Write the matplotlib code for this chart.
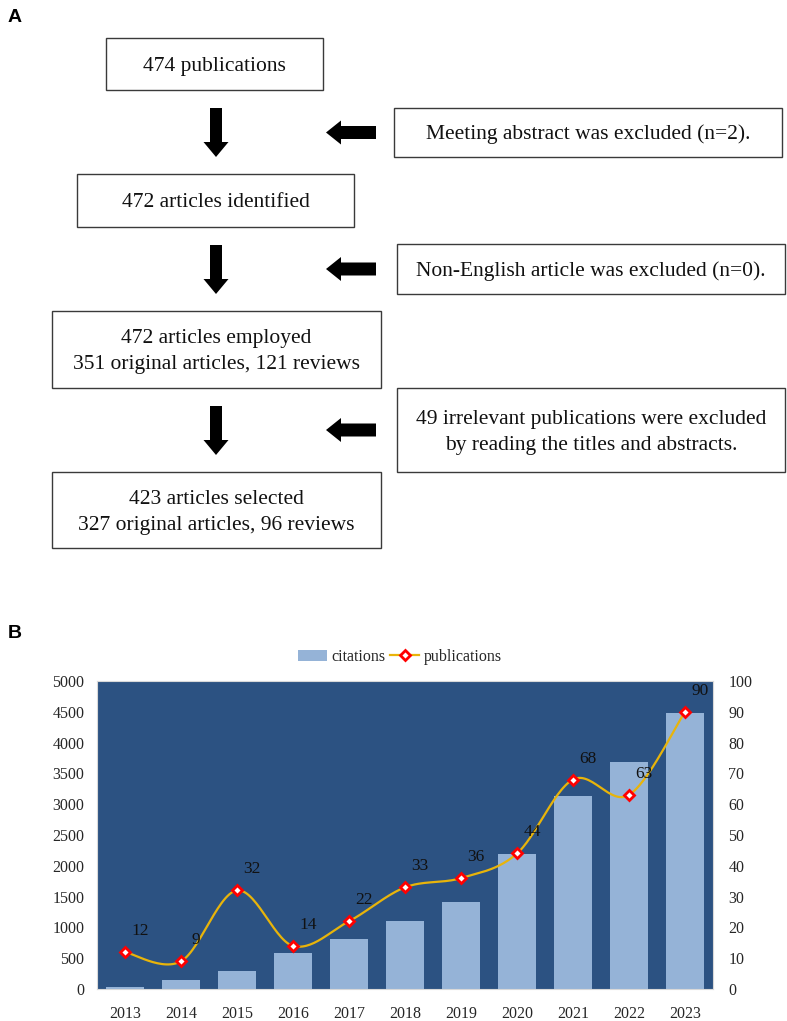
import numpy as np
import matplotlib
matplotlib.use("Agg")
import matplotlib.pyplot as plt
from matplotlib.patches import Rectangle, FancyArrow
from matplotlib.lines import Line2D

plt.rcParams['font.family'] = ['Liberation Serif', 'DejaVu Serif']

# ---- data ----
years = ['2013', '2014', '2015', '2016', '2017', '2018', '2019', '2020', '2021', '2022', '2023']
citations = [30, 140, 300, 590, 815, 1100, 1405, 2185, 3130, 3680, 4480]
publications = [12, 9, 32, 14, 22, 33, 36, 44, 68, 63, 90]

main_boxes = ['474 publications',
              '472 articles identified',
              '472 articles employed\n351 original articles, 121 reviews',
              '423 articles selected\n327 original articles, 96 reviews']
side_boxes = ['Meeting abstract was excluded (n=2).',
              'Non-English article was excluded (n=0).',
              '49 irrelevant publications were excluded\nby reading the titles and abstracts.']

W, H = 787, 1021
fig = plt.figure(figsize=(W / 100, H / 100), dpi=100)

# ---- panel A: flow chart, drawn in pixel coordinates ----
fa = fig.add_axes([0, 0, 1, 1])
fa.set_xlim(0, W)
fa.set_ylim(H, 0)
fa.axis('off')

# (x0, y0, x1, y1)
main_pos = [(106, 38, 323, 90), (77, 174, 354, 227), (52, 311, 381, 388), (52, 472, 381, 548)]
side_pos = [(394, 108, 782, 157), (397, 244, 785, 294), (397, 388, 785, 472)]

def box(p, txt):
    x0, y0, x1, y1 = p
    fa.add_patch(Rectangle((x0, y0), x1 - x0, y1 - y0, fill=False, ec='#3a3a3a', lw=1.0))
    fa.text((x0 + x1) / 2, (y0 + y1) / 2 + 2, txt, ha='center', va='center',
            fontsize=15.5, linespacing=1.5, color='#111111')

for p, t in zip(main_pos, main_boxes):
    box(p, t)
for p, t in zip(side_pos, side_boxes):
    box(p, t)

# down arrows between main boxes, left arrows from side boxes
for i in range(3):
    top = main_pos[i][3] + 18
    bot = main_pos[i + 1][1] - 17
    fa.add_patch(FancyArrow(216, top, 0, bot - top, width=12, head_width=25,
                            head_length=15, length_includes_head=True, color='black', lw=0))
    sy = (side_pos[i][1] + side_pos[i][3]) / 2
    fa.add_patch(FancyArrow(376, sy, -50, 0, width=13, head_width=24,
                            head_length=15, length_includes_head=True, color='black', lw=0))

fa.text(8, 18, 'A', fontsize=14, fontweight='bold', family='Liberation Sans', va='center')
fa.text(8, 633, 'B', fontsize=14, fontweight='bold', family='Liberation Sans', va='center')

# ---- panel B: combo chart ----
ax = fig.add_axes([97 / W, 1 - 989 / H, (713 - 97) / W, (989 - 681) / H])
ax.set_facecolor('#2C5282')
x = np.arange(len(years))
bars = ax.bar(x, citations, width=0.69, color='#95B3D7', zorder=2, label='citations')
ax.set_xlim(-0.5, len(years) - 0.5)
ax.set_ylim(0, 5000)
ax.set_yticks(np.arange(0, 5001, 500))
ax.set_xticks(x)
ax.set_xticklabels(years)
ax.tick_params(length=0, labelsize=11.5, colors='#262626')
ax.tick_params(axis='y', pad=9)
ax.tick_params(axis='x', pad=12)
for s in ax.spines.values():
    s.set_color('#D9D9D9')
    s.set_linewidth(0.8)

ax2 = ax.twinx()
ax2.set_ylim(0, 100)
ax2.set_yticks(np.arange(0, 101, 10))
ax2.tick_params(length=0, labelsize=11.5, colors='#262626', pad=11)
for s in ax2.spines.values():
    s.set_visible(False)

# Excel-style smoothed line (Catmull-Rom through the points)
px = x.astype(float)
py = np.array(publications, dtype=float)
P = np.column_stack([px, py])
Pe = np.vstack([P[0], P, P[-1]])
t = np.linspace(0, 1, 30)[:, None]
seg = []
for i in range(1, len(Pe) - 2):
    p0, p1, p2, p3 = Pe[i - 1], Pe[i], Pe[i + 1], Pe[i + 2]
    c = 0.5 * ((2 * p1) + (-p0 + p2) * t + (2 * p0 - 5 * p1 + 4 * p2 - p3) * t ** 2
               + (-p0 + 3 * p1 - 3 * p2 + p3) * t ** 3)
    seg.append(c)
curve = np.vstack(seg)
ax2.plot(curve[:, 0], curve[:, 1], color='#E8B40A', lw=1.6, zorder=3)
ax2.plot(px, py, ls='none', marker='D', ms=5.5, mfc='white', mec='#FF0000', mew=2, zorder=4)
for xi, yi in zip(px, py):
    ax2.annotate(str(int(yi)), (xi, yi), xytext=(15, 21), textcoords='offset pixels',
                 ha='center', va='center', fontsize=12.5, color='#111111')

# legend
h_line = Line2D([], [], color='#E8B40A', lw=1.6, marker='D', ms=5.5, mfc='white', mec='#FF0000', mew=2)
fig.legend([bars, h_line], ['citations', 'publications'], loc='center',
           bbox_to_anchor=(400 / W, 1 - 657 / H), ncol=2, frameon=False, fontsize=11.5,
           handlelength=1.8, handletextpad=0.3, columnspacing=0.3, labelcolor='#262626')

fig.savefig('out.png', dpi=100)
